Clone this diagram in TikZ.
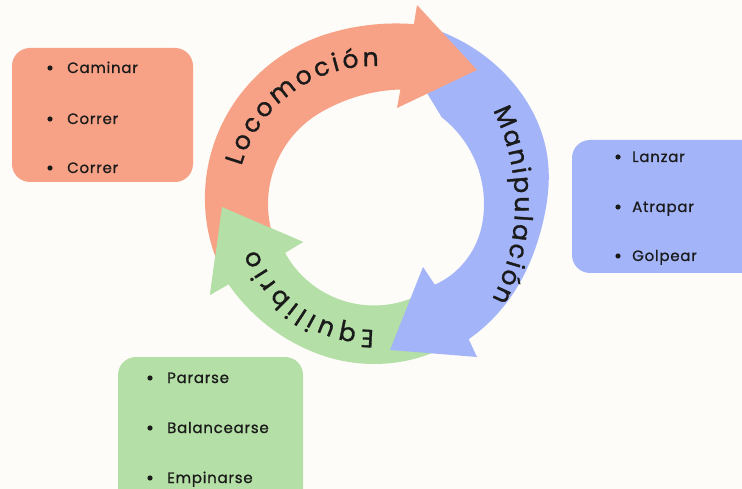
\documentclass[tikz,border=0pt]{standalone}
\usepackage{fontspec}
\setmainfont{Poppins}
\newfontfamily\ringfont[FakeBold=1.2]{Poppins}
\newfontfamily\listfont[LetterSpace=5,FakeBold=0.8]{Poppins}
\usetikzlibrary{decorations.text}
\definecolor{cOr}{HTML}{F7A286}
\definecolor{cBl}{HTML}{A3B5F8}
\definecolor{cGr}{HTML}{B4DFA6}
\definecolor{cBg}{HTML}{FDFCF8}
\definecolor{cInk}{HTML}{1A1A1A}
\newcommand\ringfmt{\ringfont\fontsize{25}{25}\selectfont}
\tikzset{
  listbox/.style={rounded corners=18pt},
  item/.style={anchor=base west, inner sep=0pt, text=cInk, font=\listfont\fontsize{15}{18}\selectfont},
  bul/.style={fill=cInk},
  ringtext/.style={decorate, decoration={text along path, text align={fit to path}, text color=cInk, text={#1}}},
  declare function={
    rOo(\t)=167+0.1*(\t-160)+5*(max(0,\t-255)/27.5)^2;
    rOi(\t)=106+11.5*(max(0,\t-240)/43)^2;
    rBo(\t)=165+20/(1+exp((\t+5)/10));
    rBi(\t)=110-9*(max(0,\t-10)/43)^2;
    rGo(\t)=160+6.3*(max(0,\t-110)/41.6)^2;
    rGi(\t)=101.5+0*\t;
  }
}
\begin{document}
\begin{tikzpicture}[x=1pt,y=-1pt]
\useasboundingbox (0,0) rectangle (742,489);
\fill[cBg] (0,0) rectangle (742,489);
\begin{scope}
\clip (0,0) rectangle (742,489);
\fill[cOr, listbox] (12,48) rectangle (193,182);
\fill[cBl, listbox] (572,140) rectangle (770,273);
\fill[cGr, listbox] (118,357) rectangle (303,520);
\end{scope}

% list items
\fill[bul] (50,68) circle[radius=2.6pt];
\node[item] (caminar) at (67,73) {Caminar};
\fill[bul] (50,119) circle[radius=2.6pt];
\node[item] (correrA) at (67,124) {Correr};
\fill[bul] (50,168) circle[radius=2.6pt];
\node[item] (correrB) at (67,173) {Correr};

\fill[bul] (618,157) circle[radius=2.6pt];
\node[item] (lanzar) at (632,162) {Lanzar};
\fill[bul] (618,207) circle[radius=2.6pt];
\node[item] (atrapar) at (632,212) {Atrapar};
\fill[bul] (618,256) circle[radius=2.6pt];
\node[item] (golpear) at (632,261) {Golpear};

\fill[bul] (150,378) circle[radius=2.6pt];
\node[item] (pararse) at (167,383) {Pararse};
\fill[bul] (150,428) circle[radius=2.6pt];
\node[item] (balancearse) at (167,433) {Balancearse};
\fill[bul] (150,478) circle[radius=2.6pt];
\node[item] (empinarse) at (167,483) {Empinarse};

% green arrow (Equilibrio)
\fill[cGr] plot[domain=60:151.6, samples=60] ({374+rGo(\x)*cos(\x)},{204+rGo(\x)*sin(\x)})
  -- (210,295) -- (222,207) -- (303,242)
  -- plot[domain=151.2:60, samples=60] ({374+rGi(\x)*cos(\x)},{204+rGi(\x)*sin(\x)}) -- cycle;

% blue arrow (Manipulacion)
\fill[cBl] plot[domain=-72:55, samples=80] ({374+rBo(\x)*cos(\x)},{204+rBo(\x)*sin(\x)})
  -- (477,357) -- (390,350) -- (423,267)
  -- plot[domain=53:-52, samples=80] ({374+rBi(\x)*cos(\x)},{204+rBi(\x)*sin(\x)})
  -- (427,93) -- cycle;

% orange arrow (Locomocion)
\fill[cOr] plot[domain=160:282.5, samples=80] ({374+rOo(\x)*cos(\x)},{204+rOo(\x)*sin(\x)})
  -- (417,5) -- (477,70) -- (397,108)
  -- plot[domain=283:160, samples=80] ({374+rOi(\x)*cos(\x)},{204+rOi(\x)*sin(\x)}) -- cycle;

% green head on top of orange tail
\fill[cGr] (210,295) -- (222,207) -- (303,242) -- cycle;

% ring labels
\path[ringtext={|\ringfmt|Locomoción}] plot[domain=196:272, samples=60] ({374+138*cos(\x)},{204+138*sin(\x)});
\path[ringtext={|\ringfmt|Manipulación}] plot[domain=-26.5:27, samples=60] ({305+210*cos(\x)},{204+210*sin(\x)});
\path[ringtext={|\ringfmt|Equilibrio}] plot[domain=90:159, samples=60] ({374+126*cos(\x)},{204+126*sin(\x)});
\end{tikzpicture}
\end{document}
